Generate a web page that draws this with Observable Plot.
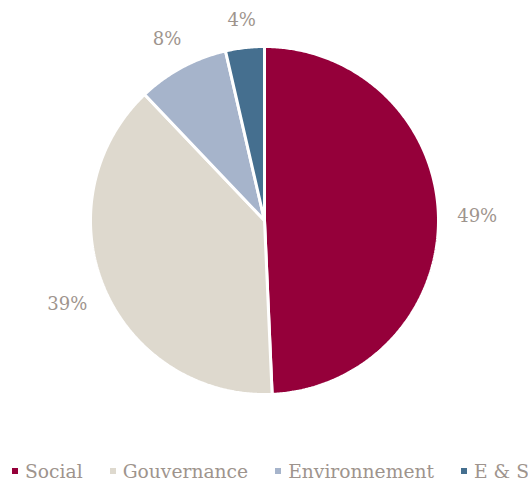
<!DOCTYPE html>
<html><head><meta charset="utf-8">
<script src="https://cdn.jsdelivr.net/npm/d3@7"></script>
<script src="https://cdn.jsdelivr.net/npm/@observablehq/plot@0.6"></script>
<style>
html,body{margin:0;padding:0;background:#fff;}
body{width:528px;height:483px;position:relative;overflow:hidden;font-family:"DejaVu Serif",serif;}
#legend{position:absolute;left:12px;top:459px;height:24px;display:flex;align-items:center;white-space:nowrap;font-size:18.7px;color:#9e948d;}
.item{display:flex;align-items:center;margin-right:27px;}
.sw{width:6px;height:6px;margin-right:7px;display:inline-block;}
</style></head><body>
<div id="chart"></div>
<div id="legend"></div>
<script>
const categories = ["Social", "Gouvernance", "Environnement", "E & S"];
const shares = [49.3, 38.6, 8.5, 3.6];
const labels = ["49%", "39%", "8%", "4%"];
const colors = ["#95003a", "#ded9ce", "#a6b4cb", "#456f8f"];
const textColor = "#9e948d";

const total = d3.sum(shares);
let acc = 0;
const slices = categories.map((c, i) => {
  const t0 = acc / total; acc += shares[i]; const t1 = acc / total;
  const n = Math.max(4, Math.ceil((t1 - t0) * 720));
  const ring = [[0, 0]];
  for (let k = 0; k <= n; k++) {
    const a = 2 * Math.PI * (t0 + (t1 - t0) * k / n);
    ring.push([Math.sin(a), -Math.cos(a)]);
  }
  ring.push([0, 0]);
  const mid = 2 * Math.PI * (t0 + t1) / 2;
  return {category: c, label: labels[i], color: colors[i], mid,
    geometry: {type: "Polygon", coordinates: [ring]}};
});

// label placement: outside the circle, offset accounting for text box
const R = 174, gap = 18, charW = 13.7, textH = 17;
const lab = slices.map(s => {
  const w = s.label.length * charW;
  const d = (R + gap + Math.abs(Math.sin(s.mid)) * w / 2 + Math.abs(Math.cos(s.mid)) * textH / 2) / R;
  return {...s, lx: d * Math.sin(s.mid), ly: -d * Math.cos(s.mid)};
});

const chart = Plot.plot({
  width: 528,
  height: 440,
  marginLeft: 90, marginRight: 90, marginTop: 46, marginBottom: 46,
  style: {fontFamily: "DejaVu Serif, serif", fontSize: "18px", background: "#fff", overflow: "visible"},
  projection: {type: "identity", clip: false, domain: {type: "Polygon", coordinates: [[[-1,-1],[1,-1],[1,1],[-1,1],[-1,-1]]]}},
  marks: [
    Plot.geo(slices.map(s => ({type: "Feature", properties: s, geometry: s.geometry})), {
      fill: d => d.properties.color, stroke: "#fff", strokeWidth: 3, strokeLinejoin: "miter"
    }),
    Plot.text(lab, {x: "lx", y: "ly", text: "label", fill: textColor, fontSize: 18, textAnchor: "middle", lineAnchor: "middle", clip: false})
  ]
});
document.getElementById("chart").appendChild(chart);

const legend = document.getElementById("legend");
categories.forEach((c, i) => {
  const it = document.createElement("div"); it.className = "item";
  const sw = document.createElement("span"); sw.className = "sw"; sw.style.background = colors[i];
  const tx = document.createElement("span"); tx.textContent = c;
  it.appendChild(sw); it.appendChild(tx); legend.appendChild(it);
});
</script>
</body></html>
